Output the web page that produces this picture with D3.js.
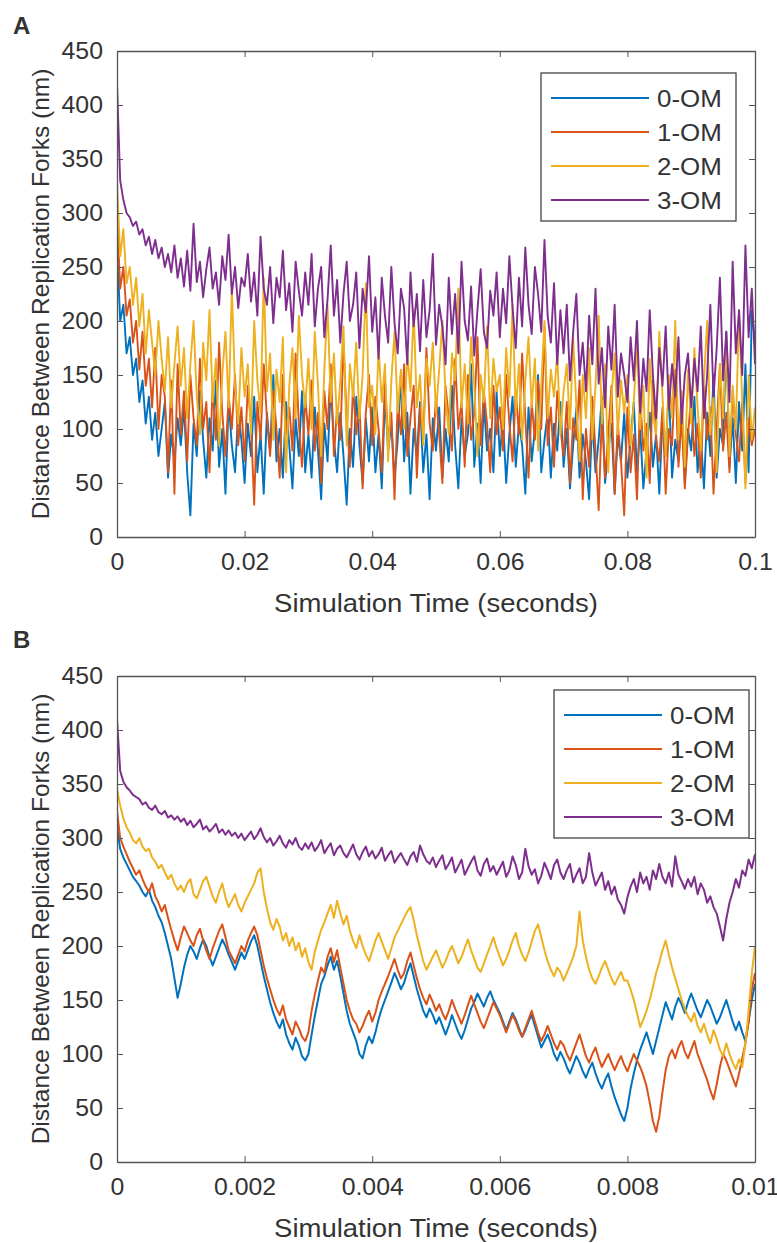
<!DOCTYPE html>
<html>
<head>
<meta charset="utf-8">
<script src="https://cdn.jsdelivr.net/npm/d3@7"></script>
<style>
  body { margin: 0; background: #fff; }
  text { font-family: "Liberation Sans", Arial, sans-serif; fill: #333; }
</style>
</head>
<body>
<div id="vis"></div>
<script>
// ==== DATA ====
const seriesNames = ["0-OM", "1-OM", "2-OM", "3-OM"];
const seriesColors = ["#0072BD", "#D95319", "#EDB120", "#7E2F8E"];
const yTicks = [0, 50, 100, 150, 200, 250, 300, 350, 400, 450];
const xTicksA = [0, 0.02, 0.04, 0.06, 0.08, 0.1];
const xTicksB = [0, 0.002, 0.004, 0.006, 0.008, 0.01];
const dtA = 0.0005, dtB = 0.00005;

// panel A, one value every 0.0005 s
const a0 = [270,200,215,170,185,150,165,125,145,105,130,90,115,75,100,125,55,95,70,110,
  85,120,60,20,105,75,135,90,55,110,80,145,65,100,40,125,85,60,115,90,
  50,105,75,130,60,95,40,115,80,150,70,100,55,125,85,45,110,75,135,60,
  95,55,120,80,35,105,70,140,90,60,115,75,30,100,65,130,85,50,110,70,
  120,60,95,45,130,80,105,55,90,150,70,115,40,100,75,125,60,95,35,110,
  80,120,55,100,70,140,85,45,110,75,95,160,65,105,50,125,80,100,60,135,
  75,110,50,95,130,65,105,85,40,120,70,100,150,60,90,115,55,105,80,125,
  65,100,45,85,120,55,95,70,35,110,60,90,130,50,80,105,40,95,70,115,
  55,90,125,60,100,45,80,115,65,95,40,110,75,140,55,90,70,120,50,100,
  80,130,60,95,45,115,75,150,55,100,85,190,65,110,50,125,80,160,60,210,180];
const a1 = [300,230,250,205,220,180,200,155,190,140,165,120,175,100,150,130,60,145,40,160,
  95,135,70,150,110,85,165,100,125,60,140,90,180,115,75,130,100,150,85,120,
  70,140,105,30,125,90,160,110,75,135,100,55,150,95,120,80,170,105,65,130,
  95,145,80,115,50,135,100,160,75,120,90,180,110,65,140,95,125,45,115,150,
  85,130,100,60,145,90,115,35,125,95,160,75,110,140,55,120,90,175,105,80,
  130,95,50,140,110,80,165,100,125,65,150,90,115,185,85,135,105,60,140,95,
  120,80,150,105,70,135,95,170,110,55,125,90,145,100,195,85,120,65,135,100,
  75,125,50,110,90,145,35,100,65,130,80,25,115,55,95,140,40,105,70,20,
  120,60,95,35,130,80,105,50,145,90,70,120,40,100,85,155,65,110,45,95,
  130,75,105,55,140,90,120,40,100,160,80,115,60,135,95,70,125,50,110,85,100];
const a2 = [330,260,285,235,250,215,240,195,225,170,210,180,150,200,165,135,185,120,160,195,
  140,175,110,160,200,130,95,180,145,210,125,165,85,150,190,120,230,140,105,175,
  130,160,95,200,145,115,240,135,170,90,155,125,185,60,140,175,110,205,150,120,
  165,100,190,140,75,155,215,125,170,105,145,195,85,160,130,180,110,150,235,120,
  140,95,175,125,160,70,145,190,115,155,100,170,135,210,120,150,85,165,140,180,
  115,155,200,130,95,170,145,230,120,160,105,185,140,75,150,125,195,110,165,135,
  150,100,175,130,215,115,160,90,145,185,120,165,80,140,200,110,155,130,170,95,
  135,160,100,185,120,70,150,110,175,90,140,205,105,160,60,130,170,95,145,115,
  150,85,125,180,100,140,55,165,115,95,190,130,75,150,110,200,90,135,65,155,
  105,175,120,80,145,200,95,130,60,160,110,185,75,140,100,210,125,45,150,90,120];
const a3 = [420,330,312,300,296,288,292,280,285,270,278,262,275,258,268,250,262,245,270,240,
  258,232,265,228,290,236,255,222,248,268,230,245,215,260,238,280,225,250,212,240,
  232,262,218,245,205,278,230,215,250,198,240,222,265,210,235,190,255,228,205,245,
  215,262,195,230,250,185,220,270,205,238,180,225,255,200,215,245,175,230,208,260,
  190,222,165,240,205,180,250,198,170,230,212,160,245,195,225,172,238,185,210,262,
  178,215,195,160,240,188,225,170,255,200,182,232,168,210,248,190,175,228,205,245,
  185,230,198,260,212,175,240,195,268,215,188,250,225,190,275,205,180,235,160,210,
  170,215,145,190,225,150,180,135,205,160,230,142,175,120,195,155,215,130,170,150,
  125,185,145,200,115,165,135,210,150,110,175,140,195,118,160,130,185,105,150,170,
  120,165,135,195,110,150,215,130,175,240,145,190,125,255,170,210,150,270,185,230,160];

// panel B, one value every 0.00005 s
const b0 = [310,290,282,276,270,264,260,256,250,246,252,242,236,228,222,212,200,188,170,152,
  165,180,192,200,195,188,198,206,200,190,182,190,198,206,200,192,185,178,186,194,
  188,196,204,210,200,186,172,160,148,138,130,124,132,118,110,104,115,108,98,94,
  100,118,135,150,165,172,182,190,178,186,172,156,140,128,120,112,100,96,108,116,
  110,120,132,142,150,158,166,175,168,160,166,176,184,172,160,150,140,134,142,136,
  128,134,126,118,126,136,128,120,114,122,132,142,148,156,150,144,152,158,150,144,
  138,130,122,130,138,132,124,116,122,130,136,126,116,106,112,118,110,100,94,102,
  96,88,82,90,98,92,84,78,86,92,82,74,68,76,82,70,60,52,44,38,
  50,68,82,94,104,112,120,110,100,112,124,136,148,140,132,144,152,146,138,148,
  156,148,140,134,142,150,144,136,128,134,142,150,140,130,122,130,120,112,130,150,165];
const b1 = [325,300,292,285,278,272,266,270,262,255,250,258,246,240,232,238,226,215,205,196,
  208,218,212,205,200,210,216,205,196,188,198,206,214,220,208,196,190,184,192,200,
  195,205,212,218,210,196,182,170,160,150,142,136,145,132,125,118,130,124,116,112,
  120,140,155,168,180,175,190,198,185,196,180,165,150,140,132,128,120,126,134,140,
  130,138,150,158,165,172,180,188,178,170,175,186,194,182,170,160,152,146,155,148,
  140,146,138,132,140,150,142,135,128,136,145,154,146,138,130,124,132,140,148,142,
  136,128,120,128,136,130,122,116,124,132,140,130,120,112,118,126,118,110,104,112,
  108,100,94,102,110,118,108,98,92,100,106,96,88,94,100,92,85,92,98,90,
  84,92,100,94,88,80,70,55,38,28,42,65,85,98,104,96,106,112,102,96,
  104,112,100,92,84,76,66,58,72,88,100,94,86,78,70,82,96,110,130,160,175];
const b2 = [345,330,318,310,305,298,295,300,292,288,290,282,278,272,275,268,262,266,258,252,
  256,250,258,262,248,244,252,260,264,255,246,240,250,258,245,236,242,248,238,232,
  240,246,252,258,268,272,250,235,222,215,225,218,205,212,200,208,196,203,190,198,
  185,178,195,205,215,222,230,238,226,242,230,220,228,214,205,198,210,200,192,186,
  195,205,212,204,196,188,198,208,214,220,226,232,236,224,210,198,186,178,184,190,
  196,188,180,186,194,200,192,184,190,198,206,196,188,180,176,184,192,200,208,198,
  190,182,188,196,205,212,200,192,186,194,204,214,220,208,196,186,178,172,180,176,
  168,175,182,190,200,232,205,190,178,170,165,172,180,186,178,170,164,170,176,168,
  168,160,150,138,125,132,140,150,162,175,185,196,205,192,180,170,160,150,142,135,
  130,138,126,120,128,118,110,122,114,104,98,110,100,92,86,95,88,110,140,175,200];
const b3 = [410,362,352,347,344,340,338,336,331,333,328,326,330,324,322,325,319,321,317,320,
  315,318,312,316,310,313,317,308,311,306,309,313,305,308,303,307,302,305,300,304,
  298,302,306,299,303,309,301,296,300,293,297,302,295,291,298,294,300,292,289,295,
  290,296,288,292,298,286,291,295,284,290,293,286,282,288,294,285,280,287,292,283,
  288,281,285,291,279,284,288,277,282,286,280,275,283,287,278,293,285,279,276,282,
  273,279,284,271,276,282,268,274,280,266,272,278,283,270,265,276,281,269,274,266,
  272,278,264,270,283,275,262,268,290,274,266,271,258,265,277,270,262,275,280,268,
  262,270,276,259,266,272,258,264,286,268,256,262,268,252,260,248,255,243,238,230,
  245,255,262,250,268,258,264,252,270,262,276,264,258,268,255,283,266,260,253,262,
  255,264,248,258,252,240,246,236,230,218,205,225,240,250,262,254,270,265,280,272,285];

// ==== SETUP ====
const width = 777, height = 1243;
const svg = d3.select("#vis").append("svg")
  .attr("width", width).attr("height", height);

// the figure's text is a little wider than the font, stretch it sideways
const stretch = 1.08;

function drawPanel(p) {
  const x = d3.scaleLinear().domain([0, p.xMax]).range([p.left, p.right]);
  const y = d3.scaleLinear().domain([0, 450]).range([p.bottom, p.top]);
  const g = svg.append("g");

  g.append("clipPath").attr("id", "clip" + p.letter)
    .append("rect")
    .attr("x", p.left).attr("y", p.top)
    .attr("width", p.right - p.left).attr("height", p.bottom - p.top);

  // lines
  const line = d3.line()
    .x((d, i) => x(i * p.dt))
    .y(d => y(d));
  p.series.forEach((s, k) => {
    g.append("path")
      .datum(s)
      .attr("clip-path", "url(#clip" + p.letter + ")")
      .attr("fill", "none")
      .attr("stroke", seriesColors[k])
      .attr("stroke-width", p.lw)
      .attr("stroke-linejoin", "round")
      .attr("d", line);
  });

  // axes, ticks pointing inwards like matlab
  const styleAxis = sel => {
    sel.select(".domain").attr("stroke", "#555").attr("stroke-width", 1.3);
    sel.selectAll(".tick line").attr("stroke", "#555");
    sel.selectAll(".tick text").style("font-size", "23px").attr("fill", "#333")
      .style("font-family", "'Liberation Sans', Arial, sans-serif")
      .attr("transform", `scale(${stretch},1)`);
  };
  g.append("g").attr("transform", `translate(0,${p.bottom})`)
    .call(d3.axisBottom(x).tickValues(p.xTicks).tickFormat(d3.format("~g"))
      .tickSizeInner(-6).tickSizeOuter(0).tickPadding(17))
    .call(styleAxis);
  g.append("g").attr("transform", `translate(${p.left},0)`)
    .call(d3.axisLeft(y).tickValues(yTicks).tickSizeInner(-6).tickSizeOuter(0).tickPadding(13))
    .call(styleAxis);
  g.append("g").attr("transform", `translate(0,${p.top})`)
    .call(d3.axisTop(x).tickValues(p.xTicks).tickFormat("").tickSizeInner(-6).tickSizeOuter(0))
    .call(styleAxis);
  g.append("g").attr("transform", `translate(${p.right},0)`)
    .call(d3.axisRight(y).tickValues(yTicks).tickFormat("").tickSizeInner(-6).tickSizeOuter(0))
    .call(styleAxis);

  // labels
  g.append("text")
    .attr("transform", `translate(${(p.left + p.right) / 2},${p.bottom + 75}) scale(1.1,1)`)
    .attr("text-anchor", "middle").style("font-size", "25px")
    .text("Simulation Time (seconds)");
  g.append("text")
    .attr("transform", `translate(49,${(p.top + p.bottom) / 2}) rotate(-90)`)
    .attr("text-anchor", "middle").style("font-size", "24.5px")
    .text("Distance Between Replication Forks (nm)");
  g.append("text")
    .attr("x", 13).attr("y", p.letterY)
    .style("font-size", "24px").style("font-weight", "bold")
    .text(p.letter);

  // legend
  const lg = g.append("g");
  lg.append("rect")
    .attr("x", p.legX).attr("y", p.legY)
    .attr("width", 195).attr("height", 148)
    .attr("fill", "#fff").attr("stroke", "#444").attr("stroke-width", 1.3);
  seriesNames.forEach((name, k) => {
    const yy = p.legY + 25 + k * 34;
    lg.append("line")
      .attr("x1", p.legX + 10).attr("x2", p.legX + 108)
      .attr("y1", yy).attr("y2", yy)
      .attr("stroke", seriesColors[k]).attr("stroke-width", 1.8);
    lg.append("text")
      .attr("transform", `translate(${p.legX + 116},${yy + 8.5}) scale(${stretch},1)`)
      .style("font-size", "24px")
      .text(name);
  });
}

drawPanel({letter: "A", left: 117, right: 755, top: 51, bottom: 537,
  xMax: 0.1, dt: dtA, xTicks: xTicksA, series: [a0, a1, a2, a3],
  lw: 1.9, legX: 541, legY: 73, letterY: 34});
drawPanel({letter: "B", left: 117, right: 755, top: 676, bottom: 1162,
  xMax: 0.01, dt: dtB, xTicks: xTicksB, series: [b0, b1, b2, b3],
  lw: 2, legX: 554, legY: 690, letterY: 648});
</script>
</body>
</html>
